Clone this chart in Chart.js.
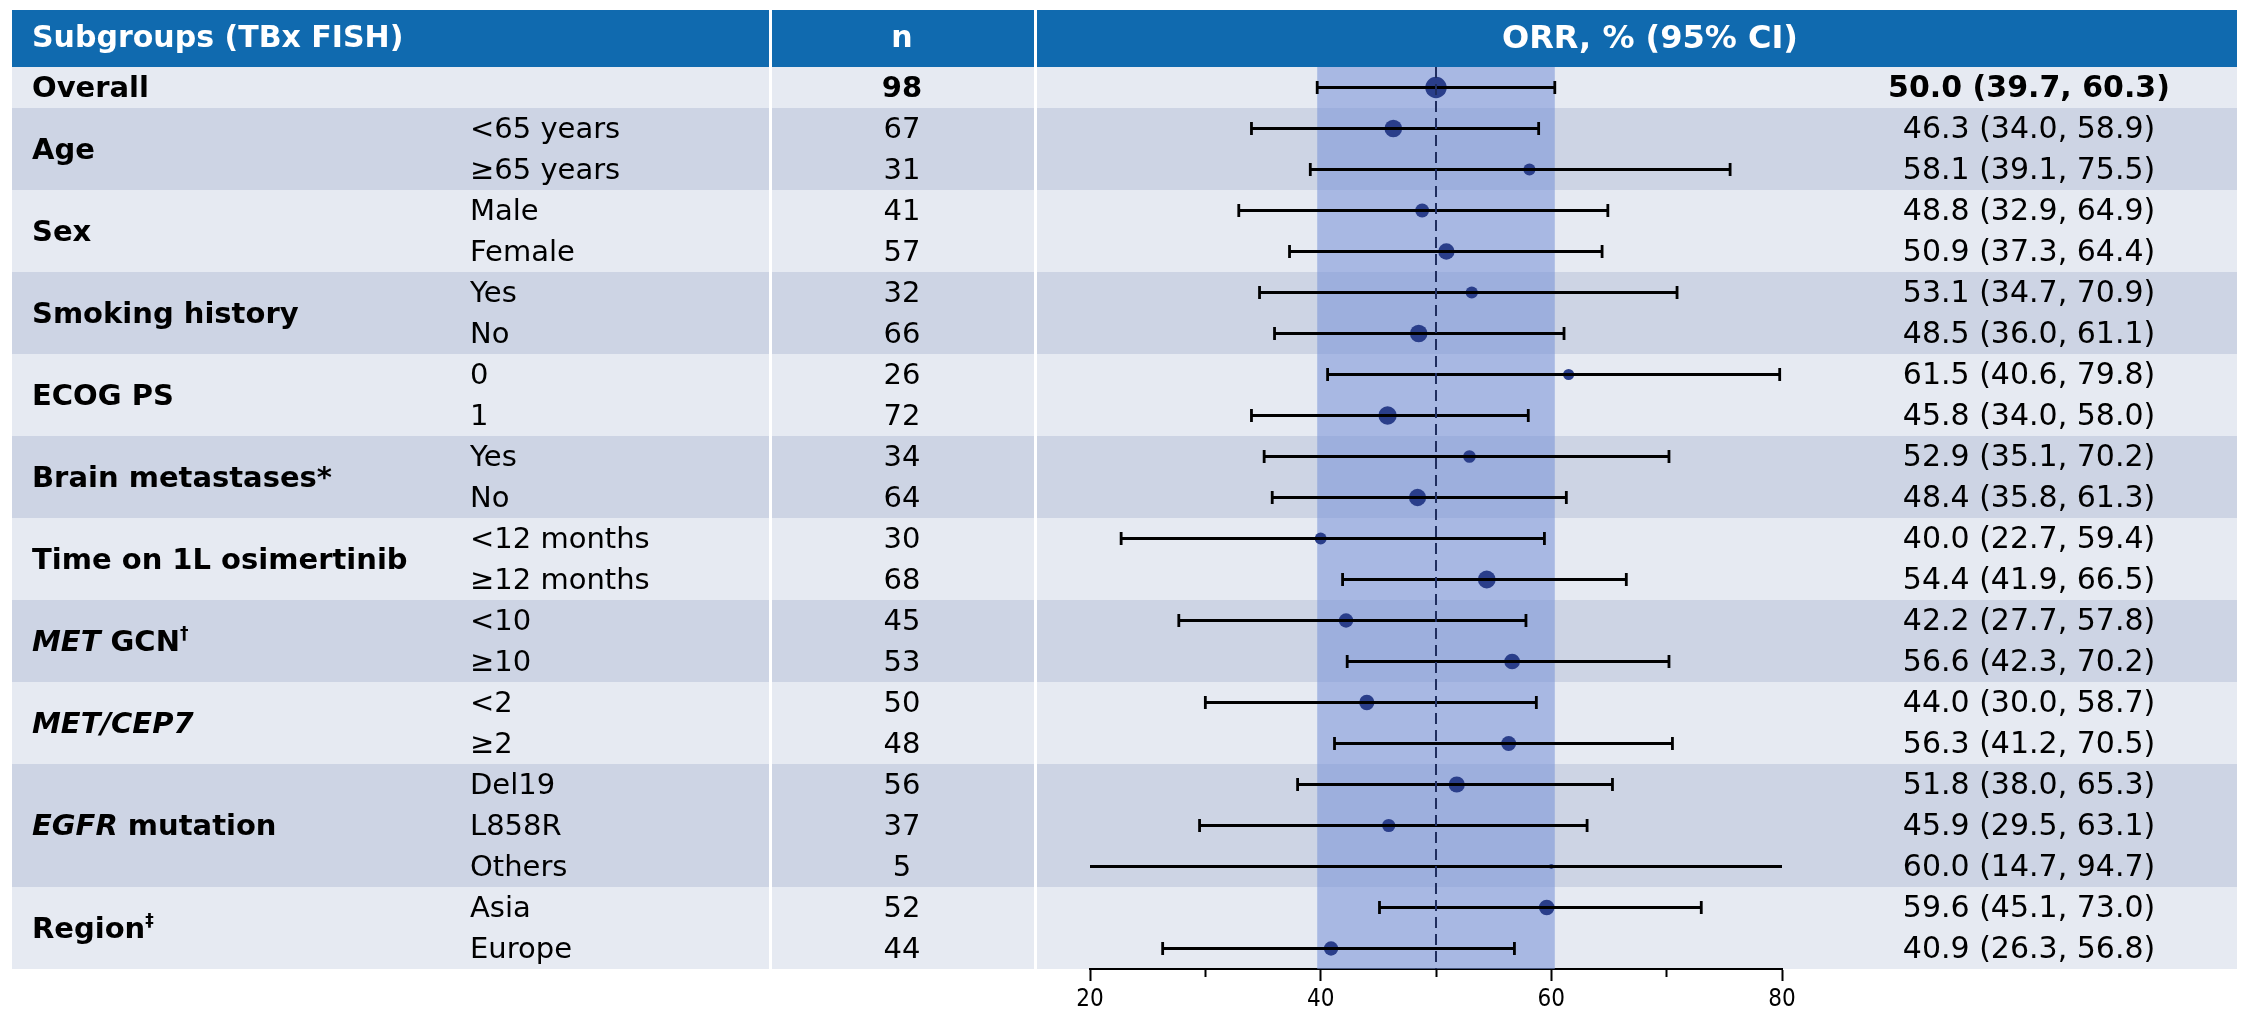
<!DOCTYPE html>
<html>
<head>
<meta charset="utf-8">
<script src="https://cdn.jsdelivr.net/npm/chart.js@4.4.1/dist/chart.umd.min.js"></script>
<style>
  html, body { margin: 0; padding: 0; background: #ffffff; }
  #wrap { width: 2246px; height: 1013px; position: relative; }
</style>
</head>
<body>
<div id="wrap"><canvas id="forest" width="2246" height="1013"></canvas></div>
<script>
// ---- Subgroup data ----
const groupLabels = [
  [{ t: 'Overall' }],
  [{ t: 'Age' }],
  [{ t: 'Sex' }],
  [{ t: 'Smoking history' }],
  [{ t: 'ECOG PS' }],
  [{ t: 'Brain metastases*' }],
  [{ t: 'Time on 1L osimertinib' }],
  [{ t: 'MET', italic: true }, { t: ' GCN' }, { t: '\u2020', sup: true }],
  [{ t: 'MET/CEP7', italic: true }],
  [{ t: 'EGFR', italic: true }, { t: ' mutation' }],
  [{ t: 'Region' }, { t: '\u2021', sup: true }]
];
const groupSizes = [1, 2, 2, 2, 2, 2, 2, 2, 2, 3, 2];
const subgroupLabels = ['', '<65 years', '\u226565 years', 'Male', 'Female', 'Yes', 'No', '0', '1',
  'Yes', 'No', '<12 months', '\u226512 months', '<10', '\u226510', '<2', '\u22652',
  'Del19', 'L858R', 'Others', 'Asia', 'Europe'];
const nValues   = [98, 67, 31, 41, 57, 32, 66, 26, 72, 34, 64, 30, 68, 45, 53, 50, 48, 56, 37, 5, 52, 44];
const orrValues = [50.0, 46.3, 58.1, 48.8, 50.9, 53.1, 48.5, 61.5, 45.8, 52.9, 48.4, 40.0, 54.4, 42.2, 56.6, 44.0, 56.3, 51.8, 45.9, 60.0, 59.6, 40.9];
const ciLower   = [39.7, 34.0, 39.1, 32.9, 37.3, 34.7, 36.0, 40.6, 34.0, 35.1, 35.8, 22.7, 41.9, 27.7, 42.3, 30.0, 41.2, 38.0, 29.5, 14.7, 45.1, 26.3];
const ciUpper   = [60.3, 58.9, 75.5, 64.9, 64.4, 70.9, 61.1, 79.8, 58.0, 70.2, 61.3, 59.4, 66.5, 57.8, 70.2, 58.7, 70.5, 65.3, 63.1, 94.7, 73.0, 56.8];
const headerLabels = ['Subgroups (TBx FISH)', 'n', 'ORR, % (95% CI)'];
const axisMin = 20, axisMax = 80, axisStep = 10;
const labelledTicks = [20, 40, 60, 80];

// ---- Styling ----
const FONT = "'DejaVu Sans', Verdana, sans-serif";
const TICK_FONT = "'DejaVu Sans Condensed', 'DejaVu Sans', sans-serif";
const BODY_SIZE = 29;
const VALUE_SIZE = 30;
const HEAD_SIZE = 30;
const ORR_HEAD_SIZE = 32;
const TEXT_NUDGE = 2;
const HEADER_BG = '#106aaf';
const ROW_LIGHT = '#e6eaf2';
const ROW_DARK = '#cdd4e4';
const BAND = 'rgba(122, 148, 216, 0.58)';
const MARKER = '#2a3e8a';
const TABLE_LEFT = 12, TABLE_RIGHT = 2237, HEADER_TOP = 10;
const COL_SPLIT_1 = 770, COL_SPLIT_2 = 1035;
const GROUP_X = 32, SUB_X = 470, N_X = 902, VALUE_X = 2029, ORR_HEAD_X = 1650;

const rowCount = nValues.length;
const fmt = v => v.toFixed(1);

// Whisker segments: one pair of points per row, separated by gaps
const whiskerData = [];
const capData = [];
for (let i = 0; i < rowCount; i++) {
  whiskerData.push({ x: ciLower[i], y: i }, { x: ciUpper[i], y: i }, { x: null, y: null });
  capData.push({ x: ciLower[i], y: i }, { x: ciUpper[i], y: i });
}
const pointData = orrValues.map((v, i) => ({ x: v, y: i }));

function drawSegments(ctx, segs, x, y, size, bold, color) {
  let cx = x;
  segs.forEach(s => {
    const fs = s.sup ? Math.round(size * 0.6) : size;
    ctx.font = (s.italic ? 'italic ' : '') + (bold ? 'bold ' : '') + fs + 'px ' + FONT;
    ctx.fillStyle = color;
    ctx.textBaseline = 'middle';
    ctx.textAlign = 'left';
    ctx.fillText(s.t, cx, s.sup ? y - size * 0.3 : y);
    cx += ctx.measureText(s.t).width;
  });
}

const tablePlugin = {
  id: 'forestTable',
  beforeDraw(chart) {
    const { ctx } = chart;
    const y = chart.scales.y;
    ctx.save();
    ctx.fillStyle = '#ffffff';
    ctx.fillRect(0, 0, chart.width, chart.height);
    const bodyTop = Math.round(y.getPixelForValue(-0.5));
    ctx.fillStyle = HEADER_BG;
    ctx.fillRect(TABLE_LEFT, HEADER_TOP, TABLE_RIGHT - TABLE_LEFT, bodyTop - HEADER_TOP);
    let start = 0;
    groupSizes.forEach((size, g) => {
      const top = Math.round(y.getPixelForValue(start - 0.5));
      const bottom = Math.round(y.getPixelForValue(start + size - 0.5));
      ctx.fillStyle = g % 2 ? ROW_DARK : ROW_LIGHT;
      ctx.fillRect(TABLE_LEFT, top, TABLE_RIGHT - TABLE_LEFT, bottom - top);
      start += size;
    });
    ctx.restore();
  },
  beforeDatasetsDraw(chart) {
    // shaded band spanning the overall 95% CI
    const { ctx, chartArea } = chart;
    const x = chart.scales.x;
    const left = x.getPixelForValue(ciLower[0]);
    const right = x.getPixelForValue(ciUpper[0]);
    ctx.save();
    ctx.fillStyle = BAND;
    ctx.fillRect(left, chartArea.top, right - left, chartArea.bottom - chartArea.top);
    ctx.restore();
  },
  afterDraw(chart) {
    const { ctx } = chart;
    const y = chart.scales.y;
    const bodyBottom = y.getPixelForValue(rowCount - 0.5);
    ctx.save();
    // column separators
    ctx.fillStyle = '#ffffff';
    ctx.fillRect(COL_SPLIT_1 - 1, HEADER_TOP, 3, bodyBottom - HEADER_TOP);
    ctx.fillRect(COL_SPLIT_2 - 1, HEADER_TOP, 3, bodyBottom - HEADER_TOP);

    // header text
    const headY = (HEADER_TOP + y.getPixelForValue(-0.5)) / 2 + 1;
    ctx.fillStyle = '#ffffff';
    ctx.textBaseline = 'middle';
    ctx.font = 'bold ' + HEAD_SIZE + 'px ' + FONT;
    ctx.textAlign = 'left';
    ctx.fillText(headerLabels[0], GROUP_X, headY);
    ctx.textAlign = 'center';
    ctx.fillText(headerLabels[1], N_X, headY);
    ctx.font = 'bold ' + ORR_HEAD_SIZE + 'px ' + FONT;
    ctx.fillText(headerLabels[2], ORR_HEAD_X, headY);

    // group labels, vertically centred over their rows
    let start = 0;
    groupSizes.forEach((size, g) => {
      const cy = (y.getPixelForValue(start - 0.5) + y.getPixelForValue(start + size - 0.5)) / 2 + TEXT_NUDGE;
      drawSegments(ctx, groupLabels[g], GROUP_X, cy, BODY_SIZE, true, '#000000');
      start += size;
    });

    // per-row columns
    for (let i = 0; i < rowCount; i++) {
      const cy = y.getPixelForValue(i) + TEXT_NUDGE;
      const bold = i === 0 ? 'bold ' : '';
      ctx.fillStyle = '#000000';
      ctx.textBaseline = 'middle';
      ctx.font = bold + BODY_SIZE + 'px ' + FONT;
      if (subgroupLabels[i]) {
        ctx.textAlign = 'left';
        ctx.fillText(subgroupLabels[i], SUB_X, cy);
      }
      ctx.textAlign = 'center';
      ctx.fillText(String(nValues[i]), N_X, cy);
      ctx.font = bold + VALUE_SIZE + 'px ' + FONT;
      ctx.fillText(fmt(orrValues[i]) + ' (' + fmt(ciLower[i]) + ', ' + fmt(ciUpper[i]) + ')', VALUE_X, cy);
    }
    ctx.restore();
  }
};

new Chart(document.getElementById('forest'), {
  type: 'scatter',
  data: {
    datasets: [
      {
        type: 'line',
        data: [{ x: orrValues[0], y: -0.5 }, { x: orrValues[0], y: rowCount - 0.5 }],
        borderColor: '#1f2d5e',
        borderWidth: 2,
        borderDash: [11, 6],
        pointRadius: 0,
        clip: false
      },
      {
        type: 'line',
        data: whiskerData,
        borderColor: '#000000',
        borderWidth: 2.8,
        pointRadius: 0,
        spanGaps: false,
        clip: { left: 0, right: 0, top: false, bottom: false }
      },
      {
        type: 'scatter',
        data: capData,
        pointStyle: 'line',
        rotation: 90,
        pointRadius: 6.5,
        borderWidth: 2.8,
        borderColor: '#000000',
        clip: { left: 4, right: 4, top: false, bottom: false }
      },
      {
        type: 'scatter',
        data: pointData,
        pointRadius: ctx => 1.08 * Math.sqrt(nValues[ctx.dataIndex]),
        backgroundColor: MARKER,
        borderWidth: 0,
        clip: false
      }
    ]
  },
  options: {
    responsive: false,
    devicePixelRatio: 1,
    animation: false,
    events: [],
    layout: { padding: { left: 1090, right: 464, top: 67, bottom: 0 } },
    plugins: { legend: { display: false }, tooltip: { enabled: false } },
    scales: {
      x: {
        type: 'linear',
        position: 'bottom',
        min: axisMin,
        max: axisMax,
        afterFit(scale) { scale.height = 44; },
        border: { display: true, color: '#000000', width: 2 },
        grid: {
          drawOnChartArea: false,
          drawTicks: true,
          tickLength: 12,
          tickWidth: 2,
          tickColor: '#000000',
          tickBorderDash: ctx => (ctx.tick && labelledTicks.includes(ctx.tick.value)) ? [] : [7, 30]
        },
        ticks: {
          stepSize: axisStep,
          autoSkip: false,
          maxRotation: 0,
          padding: 4,
          color: '#000000',
          font: { family: TICK_FONT, size: 24 },
          callback: v => labelledTicks.includes(v) ? String(v) : ''
        }
      },
      y: {
        type: 'linear',
        min: -0.5,
        max: rowCount - 0.5,
        reverse: true,
        display: false
      }
    }
  },
  plugins: [tablePlugin]
});
</script>
</body>
</html>
